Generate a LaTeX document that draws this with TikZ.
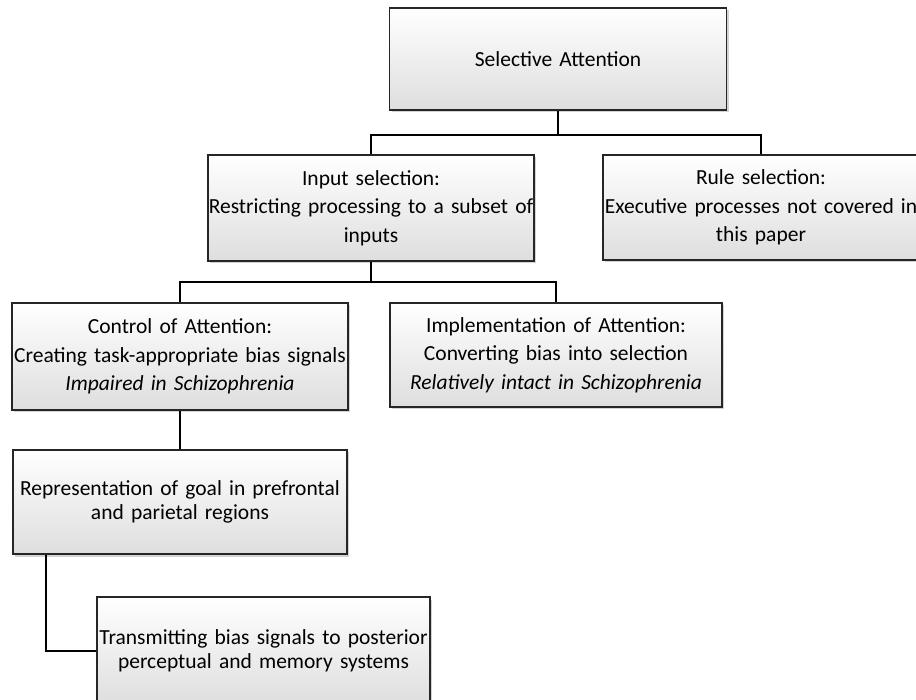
\documentclass[tikz,border=0pt]{standalone}
\usepackage{fontspec}
\setmainfont{Carlito}
\usetikzlibrary{shadows}
\begin{document}
\begin{tikzpicture}[x=1pt,y=-1pt,
	box/.style={draw=black!85, line width=1.4pt, top color=white, bottom color=black!13,
		drop shadow={shadow xshift=2pt, shadow yshift=-2.5pt, opacity=0.35},
		align=center, inner xsep=0pt, font=\fontsize{21.5}{23.5}\selectfont},
	widebox/.style={box, font=\fontsize{21.5}{28.5}\selectfont},
	link/.style={draw=black, line width=1.8pt}]
		\useasboundingbox (0,0) rectangle (916,700);
		\clip (0,0) rectangle (916,700);
		
		\node[box, text width=337pt, minimum height=102pt] (sel) at (558,59) {Selective Attention\\[6pt]};
		
		\node[widebox, text width=326pt, minimum height=106pt] (inp) at (371,208)
			{Input selection:\\ Restricting processing to a subset of\\ inputs};
		\node[widebox, text width=316pt, minimum height=105pt] (rule) at (761,207.5)
			{Rule selection:\\ Executive processes not covered in\\ this paper};
		
		\node[widebox, text width=336pt, minimum height=107pt] (ctrl) at (180,356.5)
			{Control of Attention:\\ Creating task-appropriate bias signals\\ \textit{Impaired in Schizophrenia}};
		\node[widebox, text width=332pt, minimum height=104pt] (impl) at (556,355)
			{Implementation of Attention:\\ Converting bias into selection\\ \textit{Relatively intact in Schizophrenia}};
		
		\node[box, text width=334pt, minimum height=104pt] (rep) at (180,502)
			{Representation of goal in prefrontal\\ and parietal regions};
		\node[box, text width=333pt, minimum height=108pt] (trans) at (263.5,651)
			{Transmitting bias signals to posterior\\ perceptual and memory systems};
		
		\path (sel.south) ++(0,24) coordinate (j1);
		\path (inp.south) ++(0,20) coordinate (j2);
		
		\draw[link] (sel.south) -- (j1) -| (inp.north);
		\draw[link] (j1) -| (rule.north);
		\draw[link] (inp.south) -- (j2) -| (ctrl.north);
		\draw[link] (j2) -| (impl.north);
		\draw[link] (ctrl.south) -- (rep.north);
		\draw[link] ([xshift=34pt]rep.south west) |- (trans.west);
	\end{tikzpicture}
\end{document}
